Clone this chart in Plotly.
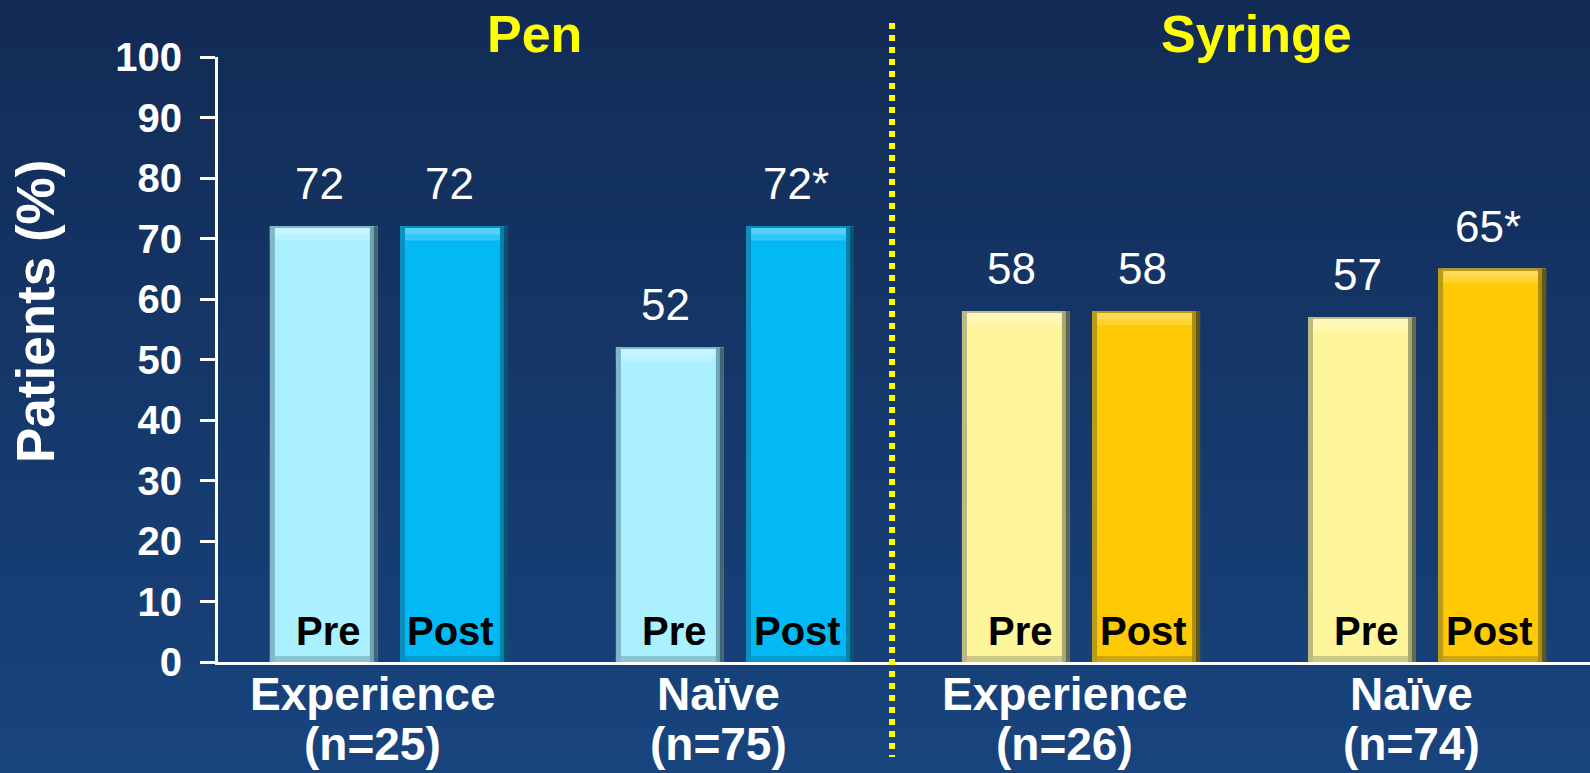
import base64
import struct
import zlib

import plotly.graph_objects as go

# ---- data -------------------------------------------------------------
group_names = ["Experience", "Naïve", "Experience", "Naïve"]
group_n = ["(n=25)", "(n=75)", "(n=26)", "(n=74)"]
devices = ["Pen", "Pen", "Syringe", "Syringe"]
pre_values = [72, 52, 58, 57]
post_values = [72, 72, 58, 65]
post_marks = ["", "*", "", "*"]          # significance asterisk on the Post label
device_titles = ["Pen", "Syringe"]
y_ticks = [0, 10, 20, 30, 40, 50, 60, 70, 80, 90, 100]

# ---- styling ----------------------------------------------------------
FONT = "Liberation Sans, Arial, sans-serif"
W, H = 1590, 773
M_L, M_R, M_T, M_B = 218, 0, 57, 111
PLOT_W, PLOT_H = W - M_L - M_R, H - M_T - M_B

pre_color = {"Pen": "#aaf0ff", "Syringe": "#fff59b"}
post_color = {"Pen": "#02b9f4", "Syringe": "#ffc905"}

BAR_W = 0.312          # bar width in category units
HALF_STEP = 0.188      # distance of Pre/Post centres from the group centre
X_RANGE = [-0.494, 3.471]
PX_PER_X = PLOT_W / (X_RANGE[1] - X_RANGE[0])
PX_PER_Y = PLOT_H / 100.0


def hex_rgb(h):
    h = h.lstrip("#")
    return tuple(int(h[i:i + 2], 16) for i in (0, 2, 4))


def mix(h, other, t):
    a, b = hex_rgb(h), hex_rgb(other)
    return "#%02x%02x%02x" % tuple(round(a[i] + (b[i] - a[i]) * t) for i in range(3))


def gradient_png(top, bottom, n=128):
    """Tiny vertical-gradient PNG as a data URI (for the slide background)."""
    t, b = hex_rgb(top), hex_rgb(bottom)
    raw = b""
    for i in range(n):
        f = i / (n - 1)
        px = bytes(round(t[k] + (b[k] - t[k]) * f) for k in range(3))
        raw += b"\x00" + px * 2

    def chunk(tag, data):
        return (struct.pack(">I", len(data)) + tag + data
                + struct.pack(">I", zlib.crc32(tag + data) & 0xFFFFFFFF))

    png = (b"\x89PNG\r\n\x1a\n"
           + chunk(b"IHDR", struct.pack(">IIBBBBB", 2, n, 8, 2, 0, 0, 0))
           + chunk(b"IDAT", zlib.compress(raw))
           + chunk(b"IEND", b""))
    return "data:image/png;base64," + base64.b64encode(png).decode()


fig = go.Figure()

groups = list(range(len(group_names)))
pre_x = [g - HALF_STEP for g in groups]
post_x = [g + HALF_STEP for g in groups]

px_x = 1 / PX_PER_X
px_y = 1 / PX_PER_Y


def add_bar(xs, heights, bases, width, offset, colors):
    n = len(xs)
    kw = dict(x=xs, y=heights, width=[width] * n,
              marker=dict(color=colors, line_width=0),
              hoverinfo="skip", showlegend=False)
    if bases is not None:
        kw["base"] = bases
    if offset is not None:
        kw["offset"] = [offset] * n
    fig.add_trace(go.Bar(**kw))


def bevel_bars(xs, values, colors):
    n = len(xs)
    # body
    add_bar(xs, values, None, BAR_W, None, colors)
    # top bevel: two bands, brighter towards the top
    add_bar(xs, [14 * px_y] * n, [v - 14 * px_y for v in values], BAR_W, None,
            [mix(c, "#ffffff", 0.18) for c in colors])
    add_bar(xs, [8 * px_y] * n, [v - 8 * px_y for v in values], BAR_W - 8 * px_x, None,
            [mix(c, "#ffffff", 0.32) for c in colors])
    # thin dark rim on the very top
    add_bar(xs, [1.5 * px_y] * n, [v - 1.5 * px_y for v in values], BAR_W, None,
            [mix(c, "#203040", 0.3) for c in colors])
    # shaded bottom bevel
    add_bar(xs, [6 * px_y] * n, [0] * n, BAR_W, None,
            [mix(c, "#1a2a40", 0.22) for c in colors])
    # left edge
    add_bar(xs, values, None, 5 * px_x, -BAR_W / 2,
            [mix(c, "#1a3048", 0.3) for c in colors])
    # right edge, darkening outward
    add_bar(xs, values, None, 8 * px_x, BAR_W / 2 - 8 * px_x,
            [mix(c, "#0a1a28", 0.35) for c in colors])
    add_bar(xs, values, None, 4 * px_x, BAR_W / 2 - 4 * px_x,
            [mix(c, "#0a1a28", 0.65) for c in colors])


bevel_bars(pre_x, pre_values, [pre_color[d] for d in devices])
bevel_bars(post_x, post_values, [post_color[d] for d in devices])

annotations = []

# value labels above the bars
for xs, vals, marks in ((pre_x, pre_values, [""] * len(pre_values)),
                        (post_x, post_values, post_marks)):
    for x, v, m in zip(xs, vals, marks):
        annotations.append(dict(x=x, y=v, xref="x", yref="y", text=f"{v}{m}",
                                showarrow=False, yanchor="bottom", xanchor="center",
                                yshift=16, xshift=-4,
                                font=dict(family=FONT, size=44, color="white")))

# Pre / Post labels inside the bars
for x in pre_x:
    annotations.append(dict(x=x, y=0, xref="x", yref="y", text="<b>Pre</b>", showarrow=False,
                            yanchor="bottom", xanchor="center", yshift=7, xshift=5,
                            font=dict(family=FONT, size=40, color="black")))
for x in post_x:
    annotations.append(dict(x=x, y=0, xref="x", yref="y", text="<b>Post</b>", showarrow=False,
                            yanchor="bottom", xanchor="center", yshift=7, xshift=-3,
                            font=dict(family=FONT, size=40, color="black")))

# category labels under the axis
for g, name, n in zip(groups, group_names, group_n):
    annotations.append(dict(x=g, y=0, xref="x", yref="paper", text=f"<b>{name}</b>",
                            showarrow=False, yanchor="top", xanchor="center", yshift=-4, xshift=-16,
                            font=dict(family=FONT, size=46, color="white")))
    annotations.append(dict(x=g, y=0, xref="x", yref="paper", text=f"<b>{n}</b>",
                            showarrow=False, yanchor="top", xanchor="center", yshift=-54, xshift=-16,
                            font=dict(family=FONT, size=46, color="white")))

# device headings
for title, xpos in zip(device_titles, [0.42, 2.506]):
    annotations.append(dict(x=xpos, y=1, xref="x", yref="paper", text=f"<b>{title}</b>",
                            showarrow=False, yanchor="bottom", xanchor="center", yshift=-8,
                            font=dict(family=FONT, size=52, color="#ffff00")))

# y-axis title
annotations.append(dict(x=(35 - M_L) / PLOT_W, y=(PLOT_H + M_T - 312) / PLOT_H,
                        xref="paper", yref="paper", text="<b>Patients (%)</b>", textangle=-90,
                        showarrow=False, xanchor="center", yanchor="middle",
                        font=dict(family=FONT, size=53, color="white")))

divider_x = 1.454

fig.update_layout(
    width=W, height=H,
    margin=dict(l=M_L, r=M_R, t=M_T, b=M_B, pad=0),
    paper_bgcolor="#153a6c",
    plot_bgcolor="rgba(0,0,0,0)",
    barmode="overlay",
    showlegend=False,
    annotations=annotations,
    images=[dict(source=gradient_png("#122b55", "#18447e"), xref="paper", yref="paper",
                 x=-M_L / PLOT_W, y=1 + M_T / PLOT_H, sizex=W / PLOT_W, sizey=H / PLOT_H,
                 xanchor="left", yanchor="top", sizing="stretch", layer="below")],
    shapes=[dict(type="line", xref="x", yref="paper", x0=divider_x, x1=divider_x,
                 y0=1 + 34 / PLOT_H, y1=-95 / PLOT_H,
                 line=dict(color="#ffff00", width=6, dash="dot"))],
    xaxis=dict(range=X_RANGE, showline=True, linecolor="white", linewidth=3,
               showticklabels=False, ticks="", showgrid=False, zeroline=False, fixedrange=True),
    yaxis=dict(range=[0, 100], tickvals=y_ticks, ticks="outside", ticklen=15, tickwidth=3,
               tickcolor="white", showline=True, linecolor="white", linewidth=3,
               showgrid=False, zeroline=False,
               tickfont=dict(family=FONT, size=40, color="white", weight="bold"),
               ticklabelstandoff=10),
)

fig.write_html("out.html")
